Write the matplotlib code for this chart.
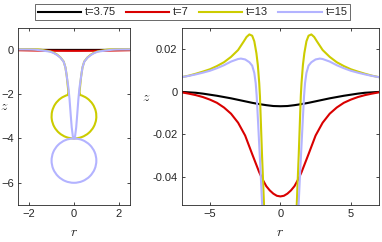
import matplotlib
matplotlib.use("Agg")
import matplotlib.pyplot as plt
import numpy as np
from matplotlib.patches import Arc

plt.rcParams["font.family"] = ["Liberation Sans", "DejaVu Sans"]
plt.rcParams["mathtext.fontset"] = "cm"

# half profiles (r >= 0), mirrored about r = 0 when drawn
r_black = [0, 0.5, 1.0, 1.5, 2.0, 2.5, 3.0, 3.5, 4.0, 4.5, 5.0, 5.5, 6.0, 6.5, 7.0]
z_black = [-0.0068, -0.0067, -0.0063, -0.0058, -0.0052, -0.0045, -0.0038, -0.0031,
           -0.0025, -0.0019, -0.0014, -0.0009, -0.0005, -0.0003, -0.0001]

r_red = [0, 0.25, 0.5, 0.75, 1.0, 1.25, 1.5, 2.0, 2.5, 3.0, 3.5, 4.0, 4.5, 5.0, 5.5, 6.0, 6.5, 7.0]
z_red = [-0.0490, -0.0487, -0.0477, -0.0462, -0.0442, -0.0412, -0.0377, -0.0292, -0.0205,
         -0.0145, -0.0103, -0.0074, -0.0052, -0.0037, -0.0025, -0.0016, -0.0009, -0.0003]

# t=13: surface from far field into the neck, ending on top of the bubble
r_yellow = [7.0, 6.5, 6.0, 5.5, 5.0, 4.5, 4.0, 3.5, 3.0, 2.6, 2.4, 2.2, 2.0, 1.85, 1.7,
            1.6, 1.5, 1.45, 1.38, 1.3, 1.22, 1.15, 1.05, 0.9, 0.75, 0.6, 0.46, 0.38,
            0.32, 0.27, 0.25, 0.27]
z_yellow = [0.0068, 0.0075, 0.0084, 0.0094, 0.0105, 0.0120, 0.0138, 0.0163, 0.0195,
            0.0235, 0.0256, 0.0268, 0.0262, 0.0236, 0.0180, 0.0125, 0.0040, -0.0020,
            -0.0150, -0.0300, -0.0430, -0.0550, -0.0750, -0.1300, -0.2200, -0.3500,
            -0.5300, -0.8000, -1.2000, -1.7000, -1.9000, -2.0400]

# t=15: surface with a long thin tube ending on top of the lower bubble
r_blue = [7.0, 6.5, 6.0, 5.5, 5.0, 4.5, 4.0, 3.5, 3.0, 2.8, 2.5, 2.2, 2.0, 1.85, 1.75,
          1.68, 1.6, 1.5, 1.4, 1.3, 1.2, 1.05, 0.9, 0.75, 0.6, 0.46, 0.38, 0.32, 0.25,
          0.2, 0.17, 0.14, 0.1, 0.05, 0.0]
z_blue = [0.0068, 0.0074, 0.0081, 0.0089, 0.0098, 0.0110, 0.0124, 0.0141, 0.0153,
          0.0155, 0.0151, 0.0138, 0.0122, 0.0088, 0.0040, -0.0020, -0.0120, -0.0250,
          -0.0380, -0.0520, -0.0650, -0.0900, -0.1500, -0.2400, -0.3600, -0.5400,
          -0.8000, -1.2000, -1.7000, -2.2000, -2.6000, -3.0000, -3.5000, -3.9000,
          -4.0000]

bubble_yellow = (0.0, -3.0, 1.0)  # centre r, centre z, radius
bubble_blue = (0.0, -5.0, 1.0)

labels = ["t=3.75", "t=7", "t=13", "t=15"]
colors = ["black", (0.85, 0, 0), (0.8, 0.8, 0), (0.7, 0.7, 1.0)]
lw = 1.5
axis_grey = (0.15, 0.15, 0.15)


def mirror(r, z):
    r = np.asarray(r, float)
    z = np.asarray(z, float)
    return np.concatenate([-r[::-1], r[1:]]), np.concatenate([z[::-1], z[1:]])


def draw_surfaces(ax, with_bubbles):
    handles = []
    for k, (r, z) in enumerate([(r_black, z_black), (r_red, z_red)]):
        rr, zz = mirror(r, z)
        h, = ax.plot(rr, zz, color=colors[k], lw=lw, zorder=2 + k * 0.1)
        handles.append(h)
    for k, (r, z, bub) in enumerate([(r_yellow, z_yellow, bubble_yellow),
                                     (r_blue, z_blue, bubble_blue)], start=2):
        r = np.asarray(r)
        z = np.asarray(z)
        zo = 2 + k * 0.1
        h, = ax.plot(-r, z, color=colors[k], lw=lw, zorder=zo)
        ax.plot(r, z, color=colors[k], lw=lw, zorder=zo)
        handles.append(h)
        if with_bubbles:
            rc, zc, rad = bub
            gap = np.degrees(np.arcsin(min(abs(r[-1]) / rad, 1.0)))
            ax.add_patch(Arc((rc, zc), 2 * rad, 2 * rad, theta1=90 + gap,
                             theta2=90 - gap + 360 * (gap == 0),
                             color=colors[k], lw=lw, zorder=zo))
    return handles


def style(ax):
    for s in ax.spines.values():
        s.set_color(axis_grey)
        s.set_linewidth(0.6)
    ax.tick_params(direction="in", length=2.5, width=0.6, top=True, right=True,
                   colors=axis_grey, labelsize=8, pad=3)


fig = plt.figure(figsize=(3.82, 2.42), dpi=100)
ax1 = fig.add_axes([0.0471, 0.153, 0.293, 0.733])
ax2 = fig.add_axes([0.4757, 0.153, 0.5165, 0.733])

draw_surfaces(ax1, True)
ax1.set_xlim(-2.5, 2.5)
ax1.set_ylim(-7, 1)
ax1.set_xticks([-2, 0, 2])
ax1.set_yticks([-6, -4, -2, 0])
style(ax1)
ax1.set_xlabel("$r$", fontsize=10, color=axis_grey)
ax1.set_ylabel("$z$", fontsize=10, color=axis_grey, rotation=0)
ax1.xaxis.set_label_coords(0.5, -0.115)
ax1.yaxis.set_label_coords(-0.12, 0.52)

handles = draw_surfaces(ax2, False)
ax2.set_xlim(-7, 7)
ax2.set_ylim(-0.053, 0.03)
ax2.set_xticks([-5, 0, 5])
ax2.set_yticks([-0.04, -0.02, 0, 0.02])
ax2.set_yticklabels(["-0.04", "-0.02", "0", "0.02"])
style(ax2)
ax2.set_xlabel("$r$", fontsize=10, color=axis_grey)
ax2.set_ylabel("$z$", fontsize=10, color=axis_grey, rotation=0)
ax2.xaxis.set_label_coords(0.5, -0.115)
ax2.yaxis.set_label_coords(-0.18, 0.57)

leg = fig.legend(handles, labels, ncol=4, loc="center", bbox_to_anchor=(0.504, 0.95),
                 fontsize=8, frameon=True, fancybox=False, handlelength=3.9,
                 handletextpad=0.35, columnspacing=0.9, borderpad=0.25, borderaxespad=0,
                 handleheight=0.5)
leg.get_frame().set_edgecolor(axis_grey)
leg.get_frame().set_linewidth(0.6)
for t in leg.get_texts():
    t.set_color(axis_grey)

fig.savefig("out.png", dpi=100)
